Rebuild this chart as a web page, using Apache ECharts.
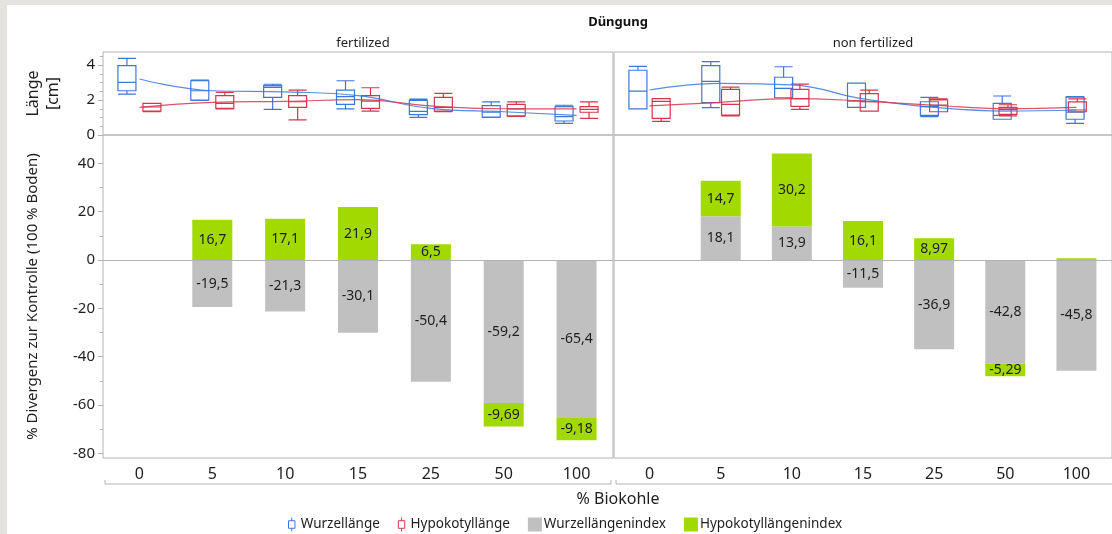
<!DOCTYPE html>
<html>
<head>
<meta charset="utf-8">
<script src="https://cdn.jsdelivr.net/npm/echarts@6/dist/echarts.min.js"></script>
<style>
  html, body { margin: 0; padding: 0; background: #ffffff; }
  #chart { width: 1112px; height: 534px; }
</style>
</head>
<body>
<div id="chart"></div>
<script>
// ---- data ------------------------------------------------------------
const categories = ['0', '5', '10', '15', '25', '50', '100'];
const facets = ['fertilized', 'non fertilized'];

// Lengths in cm as [min, Q1, median, Q3, max]
const rootBoxFert = [
  [2.34, 2.53, 3.01, 3.96, 4.38],
  [1.98, 2.00, 2.53, 3.10, 3.14],
  [1.47, 2.15, 2.72, 2.82, 2.90],
  [1.49, 1.75, 2.19, 2.57, 3.10],
  [1.01, 1.17, 1.35, 1.98, 2.05],
  [1.00, 1.02, 1.30, 1.68, 1.89],
  [0.67, 0.80, 1.05, 1.62, 1.70]
];
const hypoBoxFert = [
  [1.33, 1.36, 1.60, 1.81, 1.81],
  [1.49, 1.52, 1.81, 2.25, 2.44],
  [0.86, 1.58, 1.90, 2.25, 2.57],
  [1.37, 1.52, 1.94, 2.25, 2.70],
  [1.33, 1.36, 1.58, 2.15, 2.38],
  [1.07, 1.09, 1.49, 1.75, 1.89],
  [0.95, 1.30, 1.47, 1.62, 1.89]
];
const rootBoxNon = [
  [1.49, 1.49, 2.51, 3.70, 3.92],
  [1.56, 1.85, 3.07, 3.96, 4.19],
  [2.13, 2.13, 2.67, 3.30, 3.90],
  [1.58, 1.58, 1.94, 2.97, 2.97],
  [1.05, 1.12, 1.62, 1.90, 2.15],
  [0.90, 0.90, 1.12, 1.81, 2.23],
  [0.67, 0.90, 1.30, 2.17, 2.19]
];
const hypoBoxNon = [
  [0.78, 0.95, 1.92, 2.08, 2.08],
  [1.09, 1.14, 1.75, 2.61, 2.74],
  [1.47, 1.64, 2.08, 2.61, 2.91],
  [1.37, 1.37, 1.90, 2.36, 2.57],
  [1.33, 1.33, 1.71, 2.00, 2.06],
  [1.09, 1.18, 1.45, 1.58, 1.73],
  [1.33, 1.33, 1.43, 1.89, 2.06]
];

// Smoothed length trends (cm)
const rootCurveFert = [3.20, 2.53, 2.46, 2.25, 1.52, 1.33, 1.12];
const hypoCurveFert = [1.58, 1.87, 1.92, 2.02, 1.66, 1.50, 1.49];
const rootCurveNon = [2.57, 2.95, 2.86, 2.06, 1.58, 1.37, 1.43];
const hypoCurveNon = [1.66, 1.87, 2.08, 1.94, 1.70, 1.50, 1.58];

// % divergence from the control (100 % Boden)
const rootIndexFert = [null, -19.5, -21.3, -30.1, -50.4, -59.2, -65.4];
const hypoIndexFert = [null, 16.7, 17.1, 21.9, 6.5, -9.69, -9.18];
const rootIndexNon = [null, 18.1, 13.9, -11.5, -36.9, -42.8, -45.8];
const hypoIndexNon = [null, 14.7, 30.2, 16.1, 8.97, -5.29, 0.7];

// Axis ticks
const lengthTicks = [0, 2, 4];
const lengthMinorTicks = [0.5, 1, 1.5, 2.5, 3, 3.5, 4.5];
const indexTicks = [-80, -60, -40, -20, 0, 20, 40];
const indexMinorTicks = [-70, -50, -30, -10, 10, 30];

// ---- layout & style --------------------------------------------------
const FONT = '"Noto Sans", "Open Sans", sans-serif';
const BLUE = '#3b79d9';
const RED = '#d6364c';
const GREY = '#c0c0c0';
const GREEN = '#a2d900';
const FRAME = '#b4b4b4';
const INK = '#1e1e1e';

const panelLeft = [103, 614];
const panelWidth = 510;
const topBand = { top: 52, height: 83 };
const bottomBand = { top: 135, height: 323 };
const boxShift = 12.5;
const lengthRange = [0, 4.743];
const indexRange = [-81.95, 51.74];

const boxes = [[rootBoxFert, hypoBoxFert], [rootBoxNon, hypoBoxNon]];
const curves = [[rootCurveFert, hypoCurveFert], [rootCurveNon, hypoCurveNon]];
const indices = [[rootIndexFert, hypoIndexFert], [rootIndexNon, hypoIndexNon]];

const fmtValue = p => (p.value == null || Math.abs(p.value) < 1) ? '' : String(p.value).replace('.', ',');

const grids = [], xAxes = [], yAxes = [], series = [];
const hiddenX = () => ({ type: 'category', data: categories, show: false });
const hiddenY = range => ({ type: 'value', min: range[0], max: range[1], show: false });

function addGrid(grid, xAxis, yAxis) {
  grids.push(grid);
  const i = grids.length - 1;
  xAxes.push(Object.assign({ gridIndex: i }, xAxis));
  yAxes.push(Object.assign({ gridIndex: i }, yAxis));
  return i;
}

const lengthAxisLeft = {
  type: 'value', min: lengthRange[0], max: lengthRange[1], position: 'left',
  axisLine: { show: false }, splitLine: { show: false },
  axisTick: { show: true, customValues: lengthTicks, length: 5, lineStyle: { color: FRAME } },
  axisLabel: { customValues: lengthTicks, fontSize: 15, color: INK, margin: 8, fontFamily: FONT },
  name: 'Länge\n[cm]', nameLocation: 'middle', nameRotate: 90, nameGap: 40,
  nameTextStyle: { fontSize: 16, lineHeight: 20, color: INK, fontFamily: FONT }
};
const indexAxisLeft = {
  type: 'value', min: indexRange[0], max: indexRange[1], position: 'left',
  axisLine: { show: false }, splitLine: { show: false },
  axisTick: { show: true, customValues: indexTicks, length: 5, lineStyle: { color: FRAME } },
  axisLabel: { customValues: indexTicks, fontSize: 15, color: INK, margin: 8, fontFamily: FONT },
  name: '% Divergenz zur Kontrolle (100 % Boden)', nameLocation: 'middle', nameRotate: 90, nameGap: 63,
  nameTextStyle: { fontSize: 15, color: INK, fontFamily: FONT }
};

const mainGrids = [];
facets.forEach((facet, f) => {
  const L = panelLeft[f];
  const first = f === 0;
  const frame = { show: true, borderColor: FRAME, borderWidth: 1, backgroundColor: 'transparent' };

  const gMain = addGrid(Object.assign({ left: L, top: topBand.top, width: panelWidth, height: topBand.height }, frame),
    hiddenX(), first ? lengthAxisLeft : hiddenY(lengthRange));
  const gRoot = addGrid({ left: L - boxShift, top: topBand.top, width: panelWidth, height: topBand.height },
    hiddenX(), hiddenY(lengthRange));
  const gHypo = addGrid({ left: L + boxShift, top: topBand.top, width: panelWidth, height: topBand.height },
    hiddenX(), hiddenY(lengthRange));
  const gBar = addGrid(Object.assign({ left: L, top: bottomBand.top, width: panelWidth, height: bottomBand.height }, frame),
    {
      type: 'category', data: categories,
      axisLine: { show: false }, axisTick: { show: false },
      axisLabel: { fontSize: 16, color: INK, margin: 8, fontFamily: FONT }
    },
    first ? indexAxisLeft : hiddenY(indexRange));
  mainGrids.push({ gMain, gBar });

  const boxStyle = color => ({ color: 'rgba(255,255,255,0)', borderColor: color, borderWidth: 1.2 });
  series.push({
    name: 'Wurzellänge', type: 'boxplot', xAxisIndex: gRoot, yAxisIndex: gRoot,
    data: boxes[f][0], boxWidth: [18, 18], itemStyle: boxStyle(BLUE), silent: true
  });
  series.push({
    name: 'Hypokotyllänge', type: 'boxplot', xAxisIndex: gHypo, yAxisIndex: gHypo,
    data: boxes[f][1], boxWidth: [18, 18], itemStyle: boxStyle(RED), silent: true
  });
  series.push({
    name: 'Wurzellänge', type: 'line', xAxisIndex: gMain, yAxisIndex: gMain,
    data: curves[f][0], smooth: 0.45, symbol: 'none', silent: true,
    lineStyle: { color: BLUE, width: 1.2, opacity: 0.85 }, itemStyle: { color: BLUE }
  });
  series.push({
    name: 'Hypokotyllänge', type: 'line', xAxisIndex: gMain, yAxisIndex: gMain,
    data: curves[f][1], smooth: 0.45, symbol: 'none', silent: true,
    lineStyle: { color: RED, width: 1.2, opacity: 0.85 }, itemStyle: { color: RED }
  });

  const barLabel = { show: true, position: 'inside', formatter: fmtValue, fontSize: 14, color: INK, fontFamily: FONT };
  series.push({
    name: 'Wurzellängenindex', type: 'bar', stack: 'index' + f, xAxisIndex: gBar, yAxisIndex: gBar,
    data: indices[f][0], barWidth: 40, itemStyle: { color: GREY }, label: barLabel, silent: true,
    markLine: {
      silent: true, symbol: 'none', label: { show: false },
      lineStyle: { color: FRAME, type: 'solid', width: 1 },
      data: [{ yAxis: 0 }]
    }
  });
  series.push({
    name: 'Hypokotyllängenindex', type: 'bar', stack: 'index' + f, xAxisIndex: gBar, yAxisIndex: gBar,
    data: indices[f][1], barWidth: 40, itemStyle: { color: GREEN }, label: barLabel, silent: true
  });
});

// minor ticks on the left axes
const minorAxis = (grid, range, ticks) => ({
  type: 'value', gridIndex: grid, min: range[0], max: range[1], position: 'left',
  axisLine: { show: false }, axisLabel: { show: false }, splitLine: { show: false },
  axisTick: { show: true, customValues: ticks, length: 3, lineStyle: { color: FRAME } }
});
yAxes.push(minorAxis(mainGrids[0].gMain, lengthRange, lengthMinorTicks));
yAxes.push(minorAxis(mainGrids[0].gBar, indexRange, indexMinorTicks));

// group brackets under the category labels
const bracketY = bottomBand.top + bottomBand.height + 26;
const brackets = panelLeft.map(L => ({
  type: 'polyline', silent: true,
  shape: { points: [[L + 2, bracketY - 4], [L + 2, bracketY], [L + panelWidth - 2, bracketY], [L + panelWidth - 2, bracketY - 4]] },
  style: { stroke: FRAME, lineWidth: 1, fill: null }
}));

const boxIcon = 'path://M4,0V3M1,3H7V10H1ZM4,10V13';

const option = {
  animation: false,
  backgroundColor: '#ffffff',
  textStyle: { fontFamily: FONT },
  title: [
    { text: 'Düngung', left: panelLeft[1] - 1, top: 11, textAlign: 'center',
      textStyle: { fontSize: 13, fontWeight: 'bold', color: '#111', fontFamily: FONT } },
    { text: facets[0], left: panelLeft[0] + panelWidth / 2, top: 32, textAlign: 'center',
      textStyle: { fontSize: 13, fontWeight: 'normal', color: INK, fontFamily: FONT } },
    { text: facets[1], left: panelLeft[1] + panelWidth / 2 - 1, top: 32, textAlign: 'center',
      textStyle: { fontSize: 13, fontWeight: 'normal', color: INK, fontFamily: FONT } },
    { text: '% Biokohle', left: panelLeft[1] - 1, top: 486, textAlign: 'center',
      textStyle: { fontSize: 16, fontWeight: 'normal', color: INK, fontFamily: FONT } }
  ],
  legend: {
    left: 283, top: 512, itemWidth: 14, itemHeight: 14, itemGap: 18,
    selectedMode: false,
    textStyle: { fontSize: 13.5, color: INK, fontFamily: FONT, padding: [0, 0, 0, -3] },
    data: [
      { name: 'Wurzellänge', icon: boxIcon, itemStyle: { color: '#ffffff', borderColor: BLUE, borderWidth: 1 } },
      { name: 'Hypokotyllänge', icon: boxIcon, itemStyle: { color: '#ffffff', borderColor: RED, borderWidth: 1 } },
      { name: 'Wurzellängenindex', icon: 'rect', itemStyle: { color: GREY, borderWidth: 0 } },
      { name: 'Hypokotyllängenindex', icon: 'rect', itemStyle: { color: GREEN, borderWidth: 0 } }
    ]
  },
  grid: grids,
  xAxis: xAxes,
  yAxis: yAxes,
  series: series,
  graphic: [
    { type: 'rect', silent: true, z: 100, shape: { x: 0, y: 0, width: 1112, height: 5 }, style: { fill: '#e5e3e0' } },
    { type: 'rect', silent: true, z: 100, shape: { x: 0, y: 0, width: 7, height: 534 }, style: { fill: '#e5e3e0' } }
  ].concat(brackets)
};

const chart = echarts.init(document.getElementById('chart'), null, { renderer: 'canvas' });
chart.setOption(option);
</script>
</body>
</html>
